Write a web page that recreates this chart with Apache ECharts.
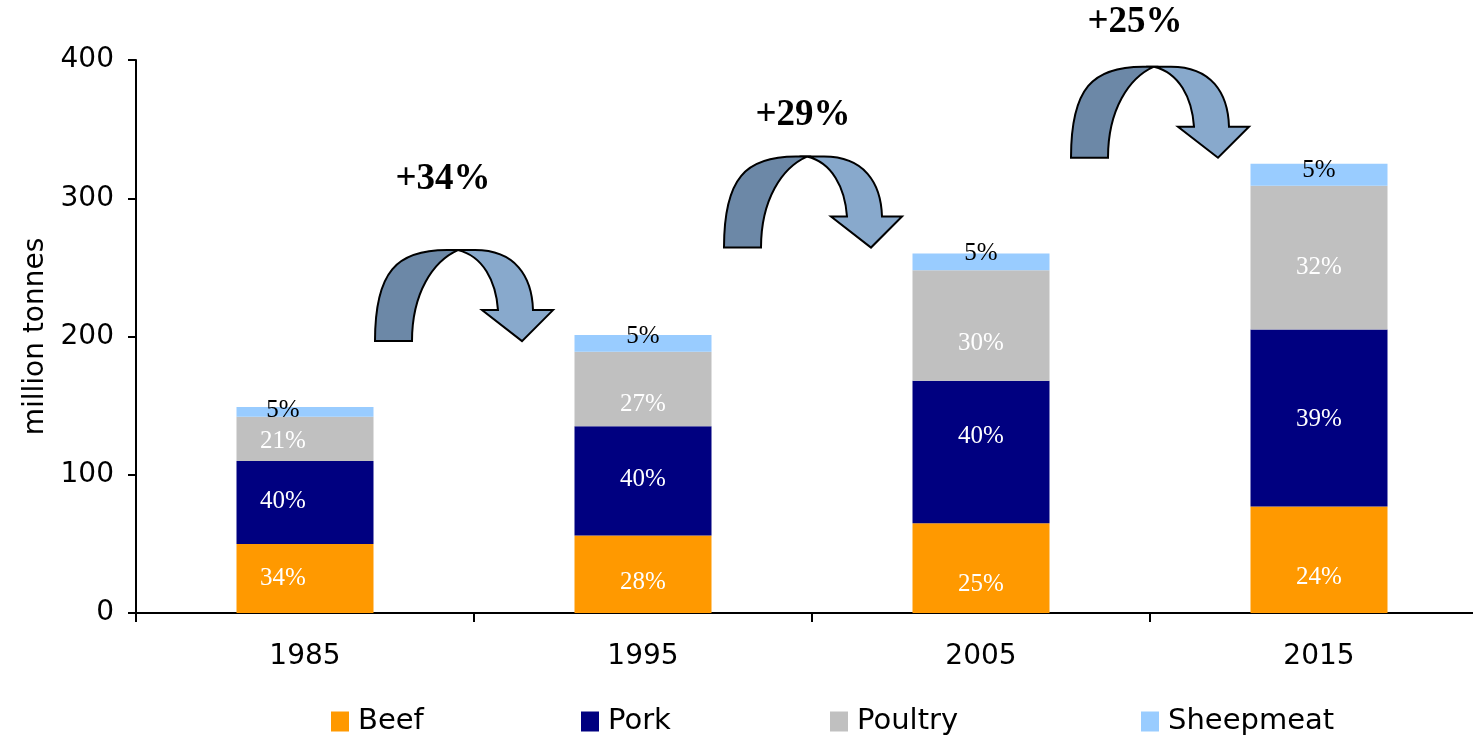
<!DOCTYPE html>
<html>
<head>
<meta charset="utf-8">
<title>Meat production</title>
<script src="https://cdn.jsdelivr.net/npm/echarts@6/dist/echarts.min.js"></script>
<style>
  html, body { margin: 0; padding: 0; background: #fff; }
  #chart { width: 1473px; height: 739px; }
</style>
</head>
<body>
<div id="chart"></div>
<script>
// values (million tonnes)
const years = ['1985', '1995', '2005', '2015']
const beef = [50, 56, 65, 77]
const pork = [60, 79, 103, 128]
const poultry = [32, 54, 80, 104]
const sheepmeat = [7, 12, 12, 16]

// share labels as printed on the bars (%)
const beefShare = [34, 28, 25, 24]
const porkShare = [40, 40, 40, 39]
const poultryShare = [21, 27, 30, 32]
const sheepShare = [5, 5, 5, 5]

const growthLabels = ['+34%', '+29%', '+25%']
const yTicks = [0, 100, 200, 300, 400]

const mychart = echarts.init(document.getElementById('chart'))

const serif = '"Liberation Serif", "Times New Roman", serif'
const sans = '"DejaVu Sans", Verdana, sans-serif'

// label nudges (px) so the percentages sit where the original put them
const labelDy = {
  Beef: [0, 8, 16, 18],
  Pork: [-1, -2, -16, 1],
  Poultry: [3, 15, 18, 10],
  Sheepmeat: [-1, -7, -8, -4]
}

function barSeries(name, values, shares, color, textColor) {
  return {
    name: name,
    type: 'bar',
    stack: 'total',
    barWidth: 137,
    itemStyle: { color: color },
    data: values.map((v, i) => ({
      value: v,
      label: { offset: [i === 0 ? -22 : 0, labelDy[name][i]] }
    })),
    label: {
      show: true,
      position: 'inside',
      color: textColor,
      fontFamily: serif,
      fontSize: 25,
      formatter: p => shares[p.dataIndex] + '%'
    }
  }
}

// curved growth arrow, drawn in local px around its lower-left corner
const leftPiece = 'M0,0 C0,-70 22,-91 72,-91 L83,-91 C58,-80 37,-48 37,0 Z'
const rightPiece = 'M83,-91 L100,-91 C140,-91 157,-65 158,-31 L178,-31 L147,0 L107,-31 L123,-31 C121,-60 108,-85 83,-91 Z'
const arrowDx = [-99, -88, -79]
const arrowDy = [6, -6, -6]
const textDx = [68, 79, 64]
const textDy = [-162, -132, -135]

const arrowData = growthLabels.map((g, i) => [
  i,
  beef[i + 1] + pork[i + 1] + poultry[i + 1] + sheepmeat[i + 1]
])

function renderArrow(params, api) {
  const i = params.dataIndex
  const p = api.coord([api.value(0), api.value(1)])
  const band = api.size([1, 0])[0]
  return {
    type: 'group',
    x: p[0] + band / 2 + arrowDx[i],
    y: p[1] + arrowDy[i],
    children: [
      { type: 'path', shape: { pathData: leftPiece }, style: { fill: '#6C88A7', stroke: '#000', lineWidth: 2 } },
      { type: 'path', shape: { pathData: rightPiece }, style: { fill: '#88A9CC', stroke: '#000', lineWidth: 2 } },
      {
        type: 'text',
        x: textDx[i],
        y: textDy[i],
        style: {
          text: growthLabels[i],
          fill: '#000',
          font: 'bold 37px ' + serif,
          align: 'center',
          verticalAlign: 'middle'
        }
      }
    ]
  }
}

const legendNames = ['Beef', 'Pork', 'Poultry', 'Sheepmeat']
const legendLeft = [326, 576, 825, 1136]

let option = {
  animation: false,
  color: ['#FF9900', '#000080', '#C0C0C0', '#99CCFF'],
  grid: {
    left: 136,
    top: 60,
    width: 1352,
    bottom: 126,
    outerBoundsMode: 'none',
    containLabel: false
  },
  legend: legendNames.map((n, i) => ({
    data: [n],
    left: legendLeft[i],
    top: 702,
    icon: 'rect',
    itemWidth: 18,
    itemHeight: 20,
    itemGap: 0,
    textStyle: { fontFamily: sans, fontSize: 29, color: '#000', padding: [0, 0, 0, 4] },
    selectedMode: false
  })),
  xAxis: {
    type: 'category',
    data: years,
    axisLine: { lineStyle: { color: '#000', width: 2 } },
    axisTick: { show: true, length: 9, lineStyle: { color: '#000', width: 2 } },
    axisLabel: { color: '#000', fontFamily: sans, fontSize: 28, margin: 30 }
  },
  yAxis: {
    type: 'value',
    min: yTicks[0],
    max: yTicks[yTicks.length - 1],
    interval: 100,
    name: 'million tonnes',
    nameLocation: 'middle',
    nameGap: 86,
    nameTextStyle: { color: '#000', fontFamily: sans, fontSize: 28 },
    splitLine: { show: false },
    axisLine: { show: true, lineStyle: { color: '#000', width: 2 } },
    axisTick: { show: true, length: 8, lineStyle: { color: '#000', width: 2 } },
    axisLabel: { color: '#000', fontFamily: sans, fontSize: 28, margin: 22 }
  },
  series: [
    barSeries('Beef', beef, beefShare, '#FF9900', '#fff'),
    barSeries('Pork', pork, porkShare, '#000080', '#fff'),
    barSeries('Poultry', poultry, poultryShare, '#C0C0C0', '#fff'),
    barSeries('Sheepmeat', sheepmeat, sheepShare, '#99CCFF', '#000'),
    {
      name: 'growth',
      type: 'custom',
      clip: false,
      silent: true,
      z: 5,
      renderItem: renderArrow,
      data: arrowData
    }
  ]
}
mychart.setOption(option)
</script>
</body>
</html>
